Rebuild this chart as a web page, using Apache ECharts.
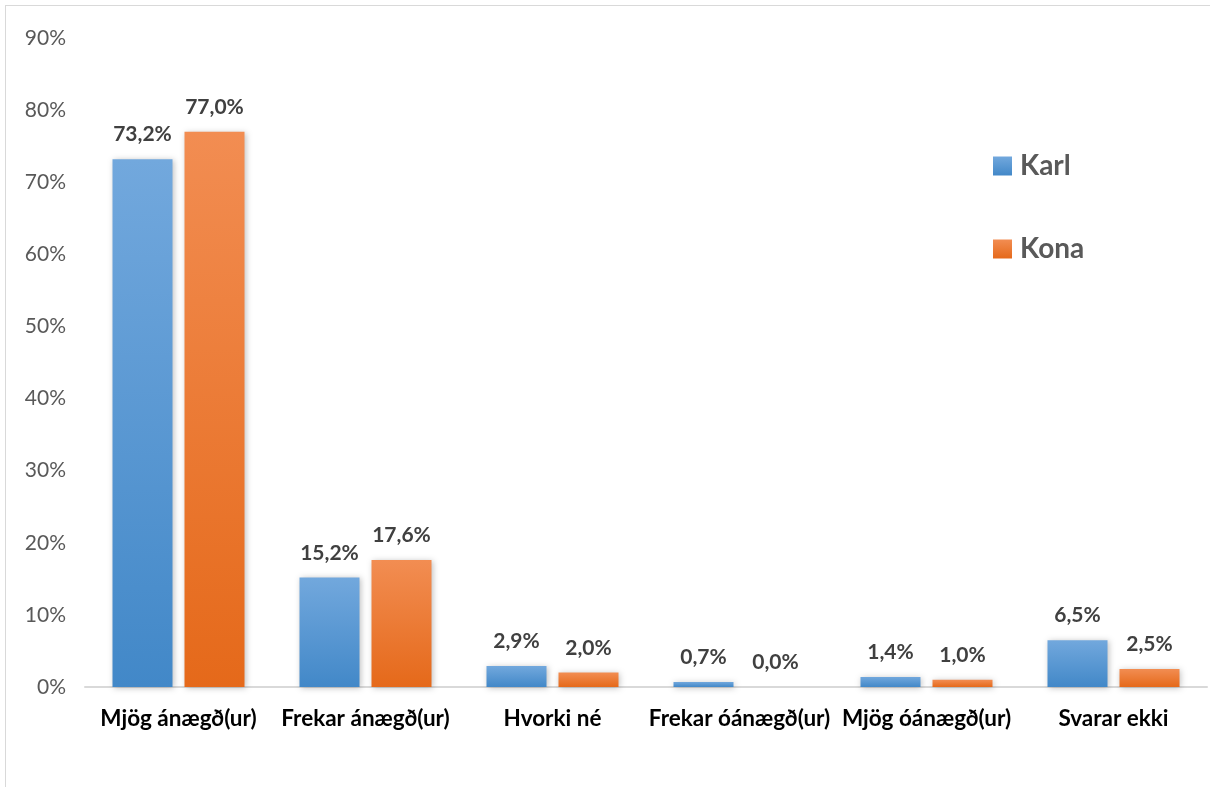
<!DOCTYPE html>
<html>
<head>
<meta charset="utf-8">
<script src="https://cdn.jsdelivr.net/npm/echarts@6/dist/echarts.min.js"></script>
<style>
  html, body { margin: 0; padding: 0; background: #fff; }
  #chart { position: absolute; left: 5px; top: 5px; width: 1210px; height: 790px;
           border: 1px solid #d9d9d9; box-sizing: border-box; }
</style>
</head>
<body>
<div id="chart"></div>
<script>
var categories = ['Mjög ánægð(ur)', 'Frekar ánægð(ur)', 'Hvorki né', 'Frekar óánægð(ur)', 'Mjög óánægð(ur)', 'Svarar ekki'];
var karl = [73.2, 15.2, 2.9, 0.7, 1.4, 6.5];
var kona = [77.0, 17.6, 2.0, 0.0, 1.0, 2.5];

var myChart = echarts.init(document.getElementById('chart'));

function grad(top, bottom) {
  return new echarts.graphic.LinearGradient(0, 0, 0, 1, [
    { offset: 0, color: top },
    { offset: 1, color: bottom }
  ]);
}

var labelStyle = {
  show: true,
  position: 'top',
  distance: 14,
  fontFamily: 'Lato',
  fontWeight: 'bold',
  fontSize: 21,
  color: '#404040',
  formatter: function (p) { return p.value.toFixed(1).replace('.', ',') + '%'; }
};

var option = {
  animation: false,
  textStyle: { fontFamily: 'Lato' },
  grid: { left: 79, right: 7, top: 32, bottom: 107 },
  legend: {
    orient: 'vertical',
    left: 982,
    top: 141,
    itemWidth: 19,
    itemHeight: 19,
    itemGap: 55,
    icon: 'rect',
    textStyle: { fontFamily: 'Lato', fontWeight: 'bold', fontSize: 28, color: '#595959', padding: [0, 0, 0, 3] },
    data: ['Karl', 'Kona']
  },
  xAxis: {
    type: 'category',
    data: categories,
    axisLine: { lineStyle: { color: '#d9d9d9', width: 2 } },
    axisTick: { show: false },
    axisLabel: { interval: 0, fontFamily: 'Lato', fontWeight: 'bold', fontSize: 22.5, color: '#000', margin: 20 }
  },
  yAxis: {
    type: 'value',
    min: 0,
    max: 90,
    interval: 10,
    splitLine: { show: false },
    axisLine: { show: false },
    axisTick: { show: false },
    axisLabel: { fontFamily: 'Lato', fontSize: 21, color: '#595959', margin: 19, formatter: '{value}%' }
  },
  series: [
    {
      name: 'Karl',
      type: 'bar',
      data: karl,
      barWidth: 60,
      barGap: '20%',
      itemStyle: {
        color: grad('#72a8dd', '#4288c8'),
        shadowColor: 'rgba(0,0,0,0.25)',
        shadowBlur: 6,
        shadowOffsetX: 1,
        shadowOffsetY: 1
      },
      label: labelStyle
    },
    {
      name: 'Kona',
      type: 'bar',
      data: kona,
      barWidth: 60,
      itemStyle: {
        color: grad('#f28d52', '#e5691a'),
        shadowColor: 'rgba(0,0,0,0.25)',
        shadowBlur: 6,
        shadowOffsetX: 1,
        shadowOffsetY: 1
      },
      label: labelStyle
    }
  ]
};

option && myChart.setOption(option);
</script>
</body>
</html>
